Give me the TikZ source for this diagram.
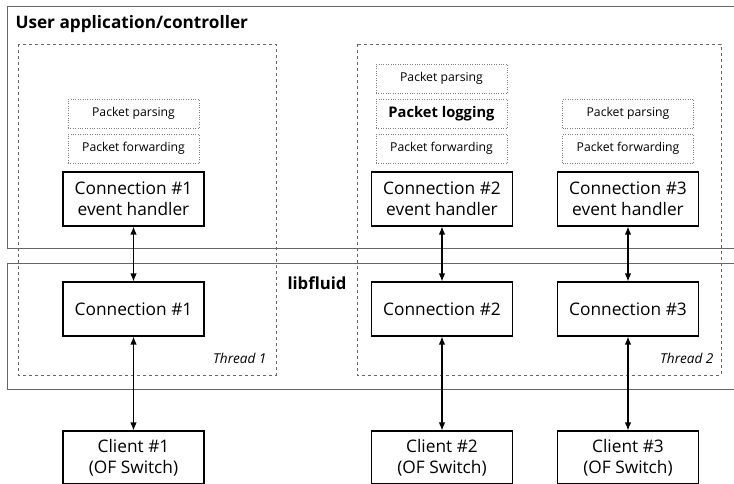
\documentclass[tikz,border=0pt]{standalone}
\usepackage{fontspec}
\setmainfont{Open Sans}
\usetikzlibrary{arrows.meta}
\begin{document}
\begin{tikzpicture}[x=1pt,y=-1pt,
    conbox/.style={draw,line width=1.1pt,minimum width=141pt,minimum height=54pt,
      inner sep=0pt,align=center,font=\fontsize{17.3}{21}\selectfont},
    taskbox/.style={draw=gray,dotted,minimum width=131pt,minimum height=29pt,
      inner sep=0pt,font=\fontsize{12.2}{14}\selectfont},
    link/.style={{Latex[length=8pt,width=6.5pt]}-{Latex[length=8pt,width=6.5pt]},line width=1.2pt}]
      \useasboundingbox (0,0) rectangle (734,484);
      \clip (0,0) rectangle (734,484);
      % layers
      \draw[gray!80!black,line width=.8pt] (7,6) rectangle (740,248);
      \draw[gray!80!black,line width=.8pt] (7,263) rectangle (740,389);
      \node[anchor=west,font=\bfseries\fontsize{17.2}{20}\selectfont] (app) at (12,24) {User application/controller};
      \node[font=\bfseries\fontsize{16.7}{20}\selectfont] (lib) at (317,283) {libfluid};
      % threads
      \draw[gray!80!black,dashed,line width=.7pt] (18,44) rectangle (276,375);
      \draw[gray!80!black,dashed,line width=.7pt] (357,44) rectangle (721,375);
      \node[anchor=east,font=\itshape\fontsize{13.6}{16}\selectfont] (t1) at (270,358) {Thread 1};
      \node[anchor=east,font=\itshape\fontsize{13.6}{16}\selectfont] (t2) at (717,358) {Thread 2};
      % tasks
      \node[taskbox] (pp1) at (133.5,113.5) {Packet parsing};
      \node[taskbox] (pf1) at (133.5,148.5) {Packet forwarding};
      \node[taskbox] (pp2) at (441.5,78.5) {Packet parsing};
      \node[taskbox,font=\bfseries\fontsize{14.7}{17}\selectfont] (pl2) at (441.5,113.5) {Packet logging};
      \node[taskbox] (pf2) at (441.5,148.5) {Packet forwarding};
      \node[taskbox] (pp3) at (628,113.5) {Packet parsing};
      \node[taskbox] (pf3) at (628,148.5) {Packet forwarding};
      % handlers, connections, clients
      \node[conbox] (h1) at (133.5,199) {Connection \#1\\event handler};
      \node[conbox] (h2) at (442,199) {Connection \#2\\event handler};
      \node[conbox] (h3) at (628,199) {Connection \#3\\event handler};
      \node[conbox] (c1) at (133.5,309) {Connection \#1};
      \node[conbox] (c2) at (442,309) {Connection \#2};
      \node[conbox] (c3) at (628,309) {Connection \#3};
      \node[conbox,minimum height=53pt] (k1) at (133.5,457.5) {Client \#1\\(OF Switch)};
      \node[conbox,minimum height=53pt] (k2) at (442,457.5) {Client \#2\\(OF Switch)};
      \node[conbox,minimum height=53pt] (k3) at (628,457.5) {Client \#3\\(OF Switch)};
      \foreach \i in {1,2,3} {
        \draw[link] (h\i) -- (c\i);
        \draw[link] (c\i) -- (k\i);
      }
\end{tikzpicture}
\end{document}
